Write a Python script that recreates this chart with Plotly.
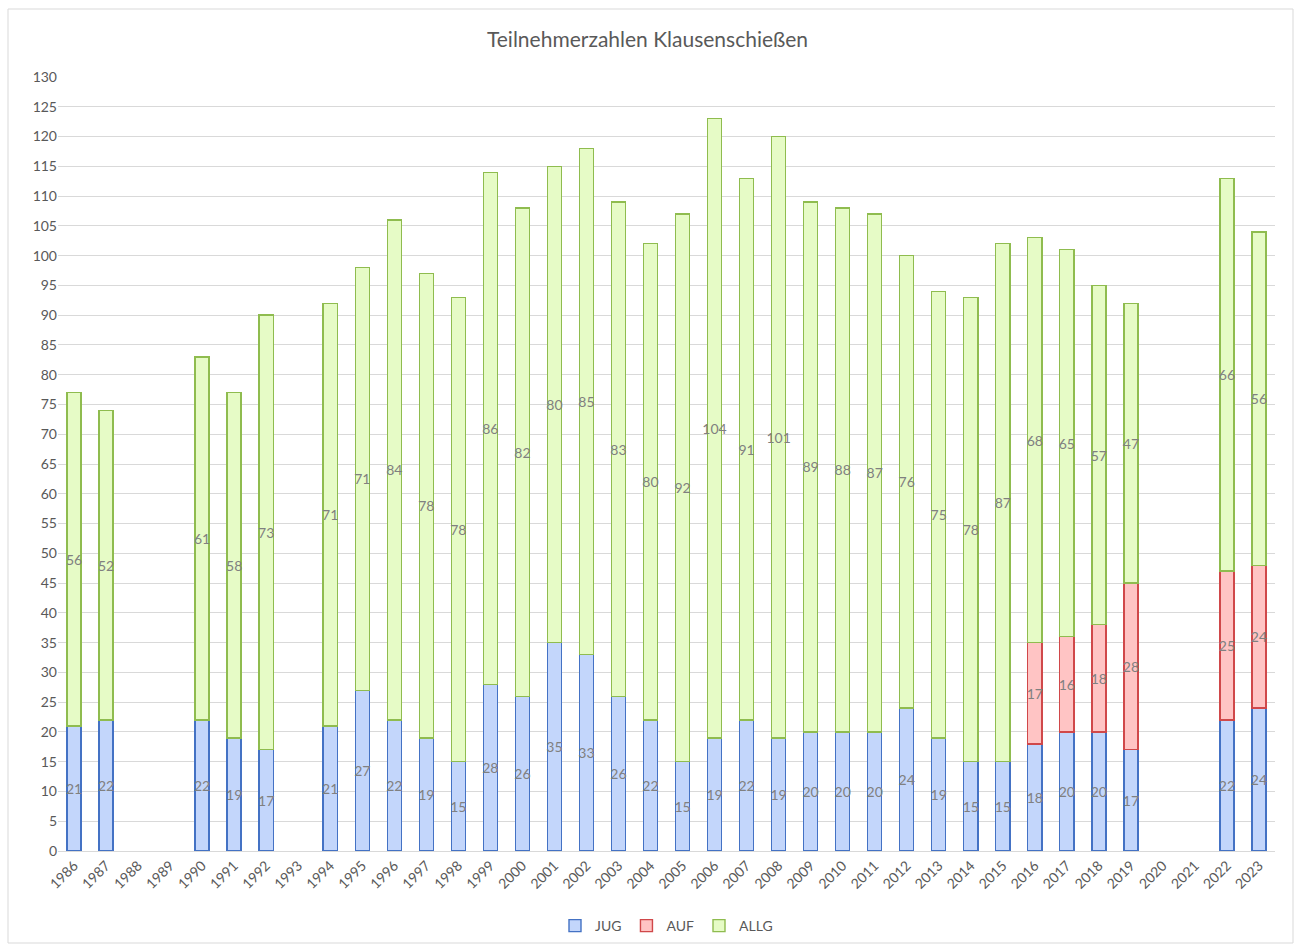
import plotly.graph_objects as go

years = [str(y) for y in range(1986, 2024)]

jug = [21, 22, None, None, 22, 19, 17, None, 21, 27, 22, 19, 15, 28, 26, 35, 33, 26, 22, 15,
       19, 22, 19, 20, 20, 20, 24, 19, 15, 15, 18, 20, 20, 17, None, None, 22, 24]
auf = [None] * 30 + [17, 16, 18, 28, None, None, 25, 24]
allg = [56, 52, None, None, 61, 58, 73, None, 71, 71, 84, 78, 78, 86, 82, 80, 85, 83, 80, 92,
        104, 91, 101, 89, 88, 87, 76, 75, 78, 87, 68, 65, 57, 47, None, None, 66, 56]

y_ticks = list(range(0, 131, 5))

FONT = "Lato, 'Open Sans', sans-serif"
GRAY = "#595959"
LABEL = "#808080"

series = [
    ("JUG", jug, "#c3d6fb", "#4472c4"),
    ("AUF", auf, "#ffc4c4", "#d0484a"),
    ("ALLG", allg, "#e6fbc6", "#8fbc4f"),
]

fig = go.Figure()
for name, vals, fill, line in series:
    fig.add_trace(go.Bar(
        name=name, x=years, y=vals,
        marker=dict(color=fill, line=dict(color=line, width=1.4)),
        text=[("" if v is None else str(v)) for v in vals],
        textposition="inside",
        insidetextanchor="middle",
        constraintext="none",
        textangle=0,
        textfont=dict(color=LABEL, size=14, family=FONT),
        hoverinfo="x+y+name",
    ))

# plot area geometry (pixels)
L, R, T, B = 58, 20, 77, 93
W, H = 1295, 944
pw, ph = W - L - R, H - T - B

fig.update_layout(
    barmode="stack",
    bargap=0.56,
    width=W, height=H,
    margin=dict(l=L, r=R, t=T, b=B, autoexpand=False),
    paper_bgcolor="white",
    plot_bgcolor="white",
    font=dict(family=FONT, color=GRAY, size=14),
    title=dict(text="Teilnehmerzahlen Klausenschießen", x=0.5, xanchor="center",
               y=1 - 40 / H, yanchor="middle",
               font=dict(size=21, color=GRAY, family=FONT)),
    xaxis=dict(type="category", categoryorder="array", categoryarray=years,
               tickangle=-45, tickfont=dict(size=14, color=GRAY),
               showgrid=False, showline=True, linecolor="#d9d9d9", linewidth=1,
               ticks="", fixedrange=True, automargin=False),
    yaxis=dict(range=[0, 130], tickvals=y_ticks, showgrid=True, gridcolor="#d9d9d9",
               gridwidth=1, zeroline=False, showline=False, ticks="",
               tickfont=dict(size=14, color=GRAY), fixedrange=True, automargin=False),
    legend=dict(orientation="h", x=0.5, xanchor="center",
                yref="container", y=1 - 926 / H, yanchor="middle",
                font=dict(size=14, color=GRAY), traceorder="normal",
                itemwidth=30),
    showlegend=True,
    shapes=[dict(type="rect", xref="paper", yref="paper",
                 x0=(8 - L) / pw, x1=(1293 - L) / pw,
                 y0=(851 - 943) / ph, y1=(851 - 9) / ph,
                 line=dict(color="#d9d9d9", width=1), fillcolor="rgba(0,0,0,0)", layer="below")],
)

fig.write_html("out.html", config={"displayModeBar": False},
               post_script="document.body.style.margin='0';document.body.style.overflow='hidden';")
